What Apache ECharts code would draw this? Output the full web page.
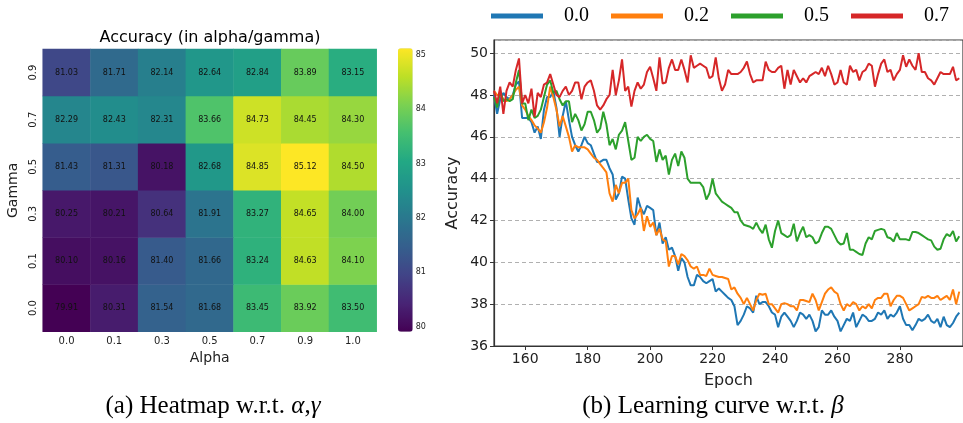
<!DOCTYPE html>
<html>
<head>
<meta charset="utf-8">
<script src="https://cdn.jsdelivr.net/npm/echarts@6/dist/echarts.min.js"></script>
<style>
  html, body { margin: 0; padding: 0; background: #fff; }
  #chart { width: 963px; height: 423px; }
</style>
</head>
<body>
<div id="chart"></div>
<script>
// ---- Heatmap: accuracy for each (alpha, gamma) pair ----
const alphaLabels = ['0.0', '0.1', '0.3', '0.5', '0.7', '0.9', '1.0'];
const gammaLabels = ['0.0', '0.1', '0.3', '0.5', '0.7', '0.9']; // bottom to top

const accGamma00 = [79.91, 80.31, 81.54, 81.68, 83.45, 83.92, 83.50];
const accGamma01 = [80.10, 80.16, 81.40, 81.66, 83.24, 84.63, 84.10];
const accGamma03 = [80.25, 80.21, 80.64, 81.91, 83.27, 84.65, 84.00];
const accGamma05 = [81.43, 81.31, 80.18, 82.68, 84.85, 85.12, 84.50];
const accGamma07 = [82.29, 82.43, 82.31, 83.66, 84.73, 84.45, 84.30];
const accGamma09 = [81.03, 81.71, 82.14, 82.64, 82.84, 83.89, 83.15];
const accRows = [accGamma00, accGamma01, accGamma03, accGamma05, accGamma07, accGamma09];

const colorbarTicks = [80, 81, 82, 83, 84, 85];

// ---- Learning curves: accuracy per epoch for each beta ----
const firstEpoch = 150;
const betaNames = ['0.0', '0.2', '0.5', '0.7'];
const epochTicks = [160, 180, 200, 220, 240, 260, 280];

const beta00 = [
  48.0, 47.1, 47.8, 48.1, 47.9, 47.8, 48.0, 48.5, 48.65, 46.9,
  46.9, 46.9, 46.7, 46.2, 46.5, 45.9, 47.3, 47.9, 47.9, 48.2,
  47.4, 46.0, 47.0, 47.7, 46.8, 46.0, 45.6, 45.3, 45.6, 46.0,
  45.7, 45.6, 45.2, 44.8, 44.8, 44.9, 44.9, 44.5, 44.2, 43.0,
  43.3, 44.1, 44.0, 43.0, 42.1, 41.8, 43.1, 42.6, 42.3, 42.7,
  42.6, 42.5, 41.3, 41.9, 40.9, 41.2, 40.6, 40.7, 40.3, 39.6,
  40.2, 40.0, 39.3, 38.9, 38.9, 39.4, 39.3, 39.1, 39.0, 39.1,
  39.2, 38.6, 38.75, 38.6, 38.45, 38.3, 38.2, 37.9, 37.0, 37.2,
  37.5, 37.9, 37.8, 37.6, 38.4, 38.0, 38.1, 38.1, 37.9, 37.6,
  37.5, 36.9, 37.4, 37.6, 37.4, 37.2, 36.9, 37.2, 37.6, 37.5,
  37.3, 37.5, 37.2, 36.7, 36.9, 37.7, 37.5, 37.5, 37.7, 37.4,
  37.2, 36.7, 37.0, 37.3, 37.2, 37.6, 36.9, 37.2, 37.5, 37.4,
  37.2, 37.2, 37.3, 37.6, 37.5, 37.7, 37.3, 37.5, 37.4, 37.6,
  37.9, 37.3, 37.0, 37.0, 36.75, 37.0, 37.3, 37.2, 37.3, 37.5,
  37.2, 37.1, 37.3, 36.9, 37.4, 37.0, 36.9, 37.1, 37.4, 37.6
];
const beta02 = [
  48.2, 48.0, 48.0, 47.8, 47.7, 47.8, 48.0, 48.25, 48.4, 47.5,
  47.3, 47.0, 46.8, 46.55, 46.4, 46.2, 46.7, 47.4, 48.4, 47.9,
  47.3, 46.5, 47.0, 46.5, 46.0, 45.3, 45.6, 45.5, 45.5, 45.5,
  45.4, 45.2, 45.0, 44.9, 44.7, 44.5, 44.3, 43.3, 42.9, 43.7,
  43.3, 43.8, 43.8, 44.0, 42.5, 42.1, 42.3, 42.6, 41.5, 42.2,
  41.7, 41.9, 41.3, 41.6, 41.1, 41.0, 39.8, 40.3, 40.3, 39.9,
  40.4, 40.3, 40.1, 39.8, 39.7, 39.8, 39.4, 39.4, 39.35, 39.7,
  39.4, 39.35, 39.3, 39.3, 39.25, 39.2, 38.7, 38.8, 38.5, 38.3,
  38.0, 38.3, 38.0, 37.7, 38.2, 38.5, 38.45, 38.5, 38.0, 38.0,
  37.8, 37.6, 38.0, 38.05, 38.0, 37.9, 37.9, 37.7, 38.2, 38.2,
  38.15, 38.1, 38.5, 38.2, 37.7, 38.1, 38.5, 38.7, 38.8, 38.6,
  38.5, 38.0, 37.7, 38.0, 37.9, 38.1, 38.0, 37.7, 37.9, 37.8,
  38.0, 37.8, 38.2, 38.3, 38.3, 38.5, 38.5, 37.9, 38.2, 38.4,
  38.4, 38.3, 38.0, 37.7, 37.8, 37.9, 38.0, 38.35, 38.3, 38.4,
  38.3, 38.3, 38.4, 38.2, 38.3, 38.4, 38.2, 38.7, 38.0, 38.6
];
const beta05 = [
  47.9, 47.4, 48.2, 47.7, 47.8, 47.7, 47.8, 48.6, 49.2, 47.6,
  47.6, 46.8, 47.3, 46.9, 47.0, 47.3, 47.9, 48.5, 48.7, 48.1,
  48.2, 47.8, 47.5, 47.7, 47.7, 46.7, 47.1, 46.8, 46.3, 46.6,
  47.2, 47.2, 46.8, 46.2, 46.4, 47.2, 46.6, 45.6, 45.9, 45.4,
  46.1, 46.3, 46.7, 45.8, 44.9, 45.0, 46.0, 45.8, 46.0, 46.1,
  45.9, 45.8, 44.8, 45.4, 44.9, 45.1, 44.2, 44.9, 45.2, 44.6,
  45.3, 45.0, 44.0, 43.8, 43.8, 43.8, 43.8, 43.6, 43.0, 43.3,
  44.0, 43.3, 43.1, 42.9, 42.8, 42.7, 42.6, 42.4, 42.4, 42.0,
  41.8, 41.75, 41.7, 41.6, 41.9, 41.6, 41.4, 41.8, 41.1, 40.7,
  41.5, 42.0, 41.4, 41.3, 41.2, 41.3, 41.85, 41.0, 41.4, 41.7,
  41.2, 41.3, 41.2, 40.9, 41.0, 41.4, 41.7, 41.7, 41.6, 41.3,
  41.0, 40.85, 40.9, 41.4, 40.6, 40.6, 40.5, 40.4, 40.35, 40.9,
  41.2, 41.1, 41.5, 41.55, 41.6, 41.55, 41.2, 41.15, 41.0, 41.4,
  41.1, 41.1, 41.1, 41.05, 41.45, 41.45, 41.4, 41.3, 41.2, 41.1,
  41.05, 40.75, 40.6, 40.65, 41.1, 41.35, 41.25, 41.5, 41.0, 41.25
];
const beta07 = [
  48.2, 47.6, 48.4, 47.1, 48.2, 48.6, 48.4, 49.2, 49.75, 47.6,
  48.0, 47.6, 48.3, 46.95, 48.1, 47.9, 48.5, 48.6, 49.0, 48.5,
  48.0, 47.9, 48.2, 48.4, 48.0, 48.2, 48.6, 48.6, 47.8, 48.4,
  48.6, 48.7, 48.2, 47.5, 47.3, 47.5, 47.8, 48.0, 49.2, 48.0,
  48.7, 49.7, 48.2, 48.4, 47.45, 48.2, 48.6, 48.3, 48.5, 49.1,
  49.35, 48.8, 48.2, 49.8, 48.55, 48.6, 49.3, 49.7, 49.2, 49.2,
  49.7, 49.2, 48.6, 49.9, 49.3, 49.4, 49.5, 49.4, 49.3, 48.8,
  48.9, 49.8, 48.8, 48.2, 48.5, 49.2, 49.0, 49.0, 49.0, 49.1,
  49.3, 49.6, 49.0, 48.6, 48.7, 48.7, 48.7, 49.6, 49.2, 49.1,
  49.1, 49.3, 49.4, 48.3, 49.2, 48.5, 49.2, 48.9, 48.6, 48.8,
  48.6, 48.9, 49.0, 49.1, 49.0, 49.3, 48.9, 49.4, 49.0, 48.5,
  48.6, 49.2, 48.6, 48.5, 49.4, 49.1, 49.2, 48.7, 49.1, 49.2,
  49.5, 49.4, 48.4, 49.0, 49.5, 49.7, 49.1, 49.2, 48.7, 49.0,
  49.2, 49.9, 49.35, 49.7, 49.4, 49.2, 50.0, 49.1, 49.1, 48.8,
  48.7, 48.5, 48.8, 49.1, 49.0, 49.0, 49.0, 49.35, 48.7, 48.8
];
const betaSeries = [beta00, beta02, beta05, beta07];
const betaColors = ['#1f77b4', '#ff7f0e', '#2ca02c', '#d62728'];

// viridis colour ramp
const viridis = ['#440154', '#482475', '#414487', '#355f8d', '#2a788e', '#21918c',
                 '#22a884', '#44bf70', '#7ad151', '#bddf26', '#fde725'];

const heatData = [];
accRows.forEach((row, gi) => row.forEach((v, ai) => heatData.push([ai, gi, v])));

const lineSeries = betaSeries.map((vals, k) => ({
  name: betaNames[k],
  type: 'line',
  xAxisIndex: 2,
  yAxisIndex: 2,
  showSymbol: false,
  symbol: 'none',
  lineStyle: { width: 2, color: betaColors[k] },
  itemStyle: { color: betaColors[k] },
  data: vals.map((v, i) => [firstEpoch + i, v])
}));

const sans = 'DejaVu Sans';
const serif = 'Liberation Serif';
const ink = '#222';

const chart = echarts.init(document.getElementById('chart'), null, { renderer: 'canvas' });
chart.setOption({
  animation: false,
  backgroundColor: '#fff',
  textStyle: { fontFamily: sans },
  legend: {
    data: betaNames,
    left: 486, top: 1,
    icon: 'rect',
    itemWidth: 52, itemHeight: 5,
    itemGap: 22,
    textStyle: { fontFamily: serif, fontSize: 20, color: '#000', padding: [0, 0, 0, 16] }
  },
  grid: [
    { left: 42.7, top: 49, width: 334, height: 282.7 },
    { left: 398, top: 48.3, width: 14.7, height: 283.4 },
    { left: 494, top: 40, width: 471, height: 306, show: true, borderColor: '#3a3a3a', borderWidth: 1.2 }
  ],
  xAxis: [
    {
      gridIndex: 0, type: 'category', data: alphaLabels,
      name: 'Alpha', nameLocation: 'middle', nameGap: 19,
      nameTextStyle: { fontSize: 14, color: ink },
      axisLine: { show: false },
      axisTick: { alignWithLabel: true, length: 3.5, lineStyle: { color: '#333' } },
      axisLabel: { fontSize: 10, color: ink, margin: 5 },
      splitLine: { show: false }
    },
    { gridIndex: 1, type: 'value', show: false, min: 0, max: 1 },
    {
      gridIndex: 2, type: 'value', min: 150, max: 300.2,
      name: 'Epoch', nameLocation: 'middle', nameGap: 27,
      nameTextStyle: { fontSize: 16, color: ink },
      axisLine: { show: true, lineStyle: { color: '#333', width: 1.2 } },
      axisTick: { customValues: epochTicks, length: 4, lineStyle: { color: '#333' } },
      axisLabel: { customValues: epochTicks, fontSize: 14, color: ink, margin: 6 },
      splitLine: { show: false }
    }
  ],
  yAxis: [
    {
      gridIndex: 0, type: 'category', data: gammaLabels,
      name: 'Gamma', nameLocation: 'middle', nameGap: 22, nameRotate: 90,
      nameTextStyle: { fontSize: 14, color: ink },
      axisLine: { show: false },
      axisTick: { alignWithLabel: true, length: 3.5, lineStyle: { color: '#333' } },
      axisLabel: { fontSize: 10, color: ink, rotate: 90, margin: 4 },
      splitLine: { show: false }
    },
    {
      gridIndex: 1, type: 'value', position: 'right', min: 79.91, max: 85.12,
      axisLine: { show: false },
      axisTick: { customValues: colorbarTicks, length: 3.5, lineStyle: { color: '#333' } },
      axisLabel: { customValues: colorbarTicks, fontSize: 8, color: ink, margin: 3 },
      splitLine: { show: false }
    },
    {
      gridIndex: 2, type: 'value', min: 36, max: 50.63, interval: 2,
      name: 'Accuracy', nameLocation: 'middle', nameGap: 33, nameRotate: 90,
      nameTextStyle: { fontSize: 16, color: ink },
      axisLine: { show: true, lineStyle: { color: '#333', width: 1.2 } },
      axisTick: { length: 4, lineStyle: { color: '#333' } },
      axisLabel: { fontSize: 14, color: ink, margin: 6, showMaxLabel: false },
      splitLine: { show: true, lineStyle: { color: '#b0b0b0', type: [4, 3], width: 1 } }
    }
  ],
  visualMap: {
    type: 'continuous',
    seriesIndex: 0,
    min: 79.91, max: 85.12,
    calculable: false,
    orient: 'vertical',
    left: 398, top: 48.3,
    itemWidth: 14.7, itemHeight: 283.4,
    padding: 0,
    inRange: { color: viridis }
  },
  graphic: [
    {
      type: 'text', x: 210, y: 38,
      style: { text: 'Accuracy (in alpha/gamma)', font: '16px "DejaVu Sans"', fill: '#000',
               textAlign: 'center', textVerticalAlign: 'middle' }
    },
    {
      type: 'text', x: 213, y: 406,
      style: {
        text: '(a) Heatmap w.r.t. {i|α},{i|γ}', font: '25px "Liberation Serif"', fill: '#000',
        textAlign: 'center', textVerticalAlign: 'middle',
        rich: { i: { fontStyle: 'italic', fontFamily: serif, fontSize: 25, fill: '#000' } }
      }
    },
    {
      type: 'text', x: 713, y: 406,
      style: {
        text: '(b) Learning curve w.r.t. {i|β}', font: '25px "Liberation Serif"', fill: '#000',
        textAlign: 'center', textVerticalAlign: 'middle',
        rich: { i: { fontStyle: 'italic', fontFamily: serif, fontSize: 25, fill: '#000' } }
      }
    }
  ],
  series: [
    {
      type: 'heatmap',
      xAxisIndex: 0, yAxisIndex: 0,
      data: heatData,
      label: {
        show: true, fontSize: 8, color: '#111', fontFamily: sans, textBorderWidth: 0,
        formatter: p => p.value[2].toFixed(2)
      },
      itemStyle: { borderWidth: 0 },
      emphasis: { disabled: true }
    },
    { type: 'line', xAxisIndex: 1, yAxisIndex: 1, data: [], silent: true },
    ...lineSeries
  ]
});
</script>
</body>
</html>
